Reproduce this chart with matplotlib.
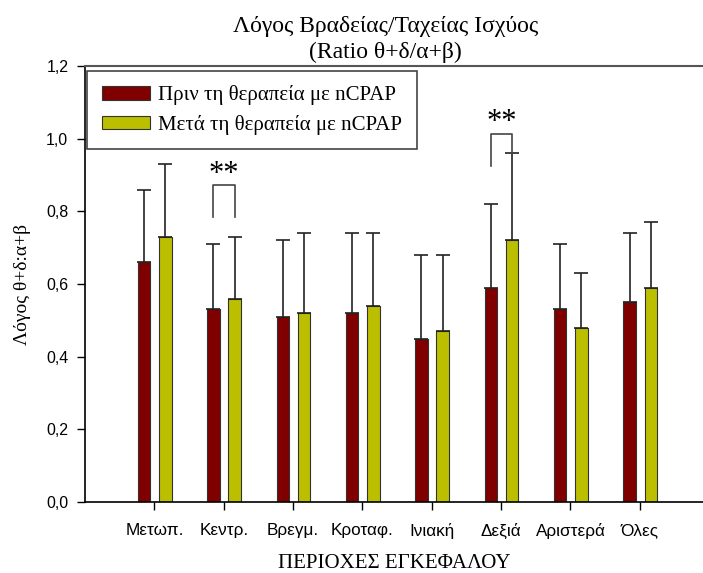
import numpy as np
import matplotlib
matplotlib.use("Agg")
from matplotlib import pyplot as plt
from matplotlib.ticker import FuncFormatter

# data
regions = ['Μετωπ.', 'Κεντρ.', 'Βρεγμ.', 'Κροταφ.', 'Ινιακή', 'Δεξιά', 'Αριστερά', 'Όλες']
before_mean = [0.66, 0.53, 0.51, 0.52, 0.45, 0.59, 0.53, 0.55]
before_top = [0.86, 0.71, 0.72, 0.74, 0.68, 0.82, 0.71, 0.74]
after_mean = [0.73, 0.56, 0.52, 0.54, 0.47, 0.72, 0.48, 0.59]
after_top = [0.93, 0.73, 0.74, 0.74, 0.68, 0.96, 0.63, 0.77]
before_sd = np.array(before_top) - np.array(before_mean)
after_sd = np.array(after_top) - np.array(after_mean)

serif = ['Liberation Serif', 'DejaVu Serif']
sans = ['Liberation Sans', 'DejaVu Sans']

fig = plt.figure(figsize=(7.03, 5.73), dpi=100)
ax = fig.add_axes([0.1209, 0.1239, 0.879, 0.7609])

x = np.arange(1, len(regions) + 1)
w = 0.18
off_l = 0.148
off_r = 0.158
red = '#800000'
green = '#BBBF00'

ekw = dict(ecolor='#222222', elinewidth=1.2, capsize=4.8, capthick=1.2)
ax.bar(x - off_l, before_mean, w, color=red, edgecolor='#333333', linewidth=0.8,
       yerr=[np.zeros(len(x)), before_sd], error_kw=ekw,
       label='Πριν τη θεραπεία με nCPAP', zorder=2)
ax.bar(x + off_r, after_mean, w, color=green, edgecolor='#333333', linewidth=0.8,
       yerr=[np.zeros(len(x)), after_sd], error_kw=ekw,
       label='Μετά τη θεραπεία με nCPAP', zorder=2)

# significance brackets
def bracket(i, y_left, y_right, y_top, y_star):
    xl = x[i] - off_l
    xr = x[i] + off_r
    ax.plot([xl, xl, xr, xr], [y_left, y_top, y_top, y_right],
            color='#444444', lw=1.2, zorder=3)
    ax.text((xl + xr) / 2, y_star, '**', ha='center', va='center',
            fontsize=22, family=serif)

bracket(1, 0.784, 0.784, 0.873, 0.902)
bracket(5, 0.926, 0.96, 1.013, 1.045)

ax.set_xlim(0, 8.91)
ax.set_ylim(0, 1.2)
ax.set_xticks(x)
ax.set_xticklabels(regions, family=sans, fontsize=12.3)
ax.set_yticks(np.arange(0, 1.21, 0.2))
ax.yaxis.set_major_formatter(FuncFormatter(lambda v, p: ('%.1f' % v).replace('.', ',')))
for lab in ax.get_yticklabels():
    lab.set_family(sans)
    lab.set_fontsize(11.5)
ax.tick_params(axis='both', direction='out', length=6, width=1, pad=6)
ax.tick_params(axis='x', pad=9)

ax.spines['right'].set_visible(False)
ax.spines['top'].set_color('#555555')
ax.spines['top'].set_linewidth(1.5)
ax.spines['left'].set_linewidth(1.2)
ax.spines['bottom'].set_linewidth(1.2)

ax.set_xlabel('ΠΕΡΙΟΧΕΣ ΕΓΚΕΦΑΛΟΥ', family=serif, fontsize=15, labelpad=11)
ax.set_ylabel('Λόγος θ+δ:α+β', family=serif, fontsize=14, labelpad=11)
fig.text(0.5488, 0.9447, 'Λόγος Βραδείας/Ταχείας Ισχύος', ha='center', va='baseline',
         family=serif, fontsize=17)
fig.text(0.5488, 0.8988, '(Ratio θ+δ/α+β)', ha='center', va='baseline',
         family=serif, fontsize=17)

leg = ax.legend(loc='upper left', bbox_to_anchor=(0.004, 0.989), fancybox=False,
                edgecolor='#444444', framealpha=1, prop={'family': serif, 'size': 15},
                handlelength=2.3, handleheight=0.63, handletextpad=0.4,
                borderpad=0.7, labelspacing=0.45, borderaxespad=0)
leg.get_frame().set_linewidth(1.2)

fig.savefig('out.png', dpi=100)
